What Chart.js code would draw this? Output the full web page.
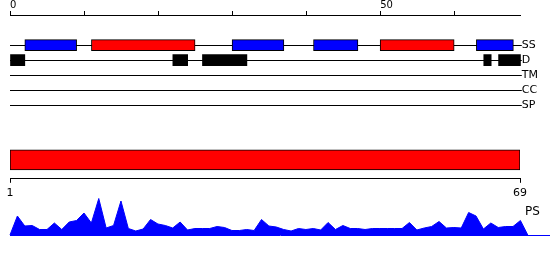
<!DOCTYPE html>
<html>
<head>
<meta charset="utf-8">
<script src="https://cdn.jsdelivr.net/npm/chart.js@4"></script>
<style>
  body { margin: 0; background: #fff; }
  #wrap { position: relative; width: 550px; height: 260px; }
  canvas { position: absolute; left: 0; }
  #psLabel { position: absolute; left: 525px; top: 204px; font: 12px "DejaVu Sans"; color: #000; }
</style>
</head>
<body>
<div id="wrap">
  <canvas id="tracks" width="550" height="112" style="top:0"></canvas>
  <canvas id="chain" width="550" height="63" style="top:141px"></canvas>
  <canvas id="ps" width="550" height="48" style="top:195px"></canvas>
  <div id="psLabel">PS</div>
</div>
<script>
// sequence and feature tracks
const seqLength = 69;
const trackNames = ['SS', 'D', 'TM', 'CC', 'SP'];
const topTickLabels = [0, 50];
const strandRanges = [[2, 9], [30, 37], [41, 47], [63, 68]];
const helixRanges = [[11, 25], [50, 60]];
const disorderRanges = [[0, 2], [22, 24], [26, 32], [64, 65], [66, 69]];
const chainRange = [1, 69];
// per-residue score, residues 1..69
const psScores = [19, 9, 9.5, 5.5, 5.5, 12, 5.5, 13, 14.5, 22, 12, 36.5, 7, 9.5, 34, 6.5, 4, 6, 15.5, 11,
  9.5, 7, 13, 5, 6.5, 6.5, 6.5, 8.5, 7.5, 4.5, 4.5, 5.5, 4.5, 15.5, 9, 8, 5.5, 4, 6.5, 5.5,
  6.5, 5, 12.5, 5.5, 9.5, 6.5, 6.5, 5.5, 6.5, 6.5, 6.5, 6.5, 6.5, 12.5, 5, 7, 8.5, 13.5, 7, 7.5,
  7, 22.5, 19, 6, 12, 7.5, 8.5, 8.5, 14.5];

const font = 'DejaVu Sans';
const noPlugins = { legend: { display: false }, tooltip: { enabled: false } };

function boxes(ranges, track) {
  return ranges.map(r => ({ x: r, y: track }));
}

new Chart(document.getElementById('tracks'), {
  type: 'bar',
  data: {
    datasets: [
      { data: boxes(strandRanges, 'SS'), backgroundColor: '#0000ff', borderColor: '#000', borderWidth: 1 },
      { data: boxes(helixRanges, 'SS'), backgroundColor: '#ff0000', borderColor: '#000', borderWidth: 1 },
      { data: boxes(disorderRanges, 'D'), backgroundColor: '#000', borderWidth: 0 }
    ]
  },
  options: {
    indexAxis: 'y',
    responsive: false,
    animation: false,
    grouped: false,
    barThickness: 11,
    borderSkipped: false,
    layout: { padding: { left: 10, right: 12, top: 0, bottom: 0 } },
    plugins: noPlugins,
    scales: {
      x: {
        type: 'linear',
        position: 'top',
        min: 0,
        max: seqLength,
        afterBuildTicks: s => { s.ticks = s.ticks.filter(t => t.value % 10 === 0); },
        ticks: {
          stepSize: 10,
          align: 'start',
          padding: 0,
          color: '#000',
          font: { family: font, size: 10, lineHeight: 1.1 },
          callback: v => topTickLabels.includes(v) ? String(v) : ''
        },
        grid: { drawOnChartArea: false, tickLength: 4, color: '#000' },
        border: { color: '#000' }
      },
      y: {
        type: 'category',
        labels: ['', ''].concat(trackNames),
        offset: false,
        position: 'right',
        grid: {
          offset: false,
          tickLength: 1,
          color: c => c.index >= 2 ? '#000' : 'rgba(0,0,0,0)'
        },
        border: { display: false },
        ticks: { autoSkip: false, padding: 0, color: '#000', font: { family: font, size: 11 } }
      }
    }
  }
});

new Chart(document.getElementById('chain'), {
  type: 'bar',
  data: {
    labels: ['chain'],
    datasets: [{
      data: [chainRange],
      backgroundColor: '#ff0000',
      borderColor: '#000',
      borderWidth: 1,
      borderSkipped: false,
      barThickness: 20
    }]
  },
  options: {
    indexAxis: 'y',
    responsive: false,
    animation: false,
    layout: { padding: { left: 10, right: 30, top: 0, bottom: 0 } },
    plugins: noPlugins,
    scales: {
      x: {
        type: 'linear',
        min: chainRange[0],
        max: chainRange[1],
        afterBuildTicks: s => { s.ticks = chainRange.map(v => ({ value: v })); },
        ticks: { padding: 4, color: '#000', font: { family: font, size: 11 } },
        grid: { drawOnChartArea: false, tickLength: 4, color: '#000' },
        border: { color: '#000' }
      },
      y: { display: false }
    }
  }
});

const psPoints = [{ x: 0, y: 0 }]
  .concat(psScores.map((v, i) => ({ x: i + 1, y: v })))
  .concat([{ x: seqLength + 1, y: 0 }]);

new Chart(document.getElementById('ps'), {
  type: 'line',
  data: {
    datasets: [{
      data: psPoints,
      fill: 'origin',
      backgroundColor: '#0000ff',
      borderColor: '#0000ff',
      borderWidth: 1,
      pointRadius: 0,
      tension: 0,
      clip: false
    }]
  },
  options: {
    responsive: false,
    animation: false,
    layout: { padding: { left: 10, right: 0, top: 0, bottom: 0 } },
    plugins: noPlugins,
    scales: {
      x: {
        type: 'linear',
        min: 0,
        max: 73,
        ticks: { display: false },
        grid: { display: false },
        border: { color: '#0000ff' }
      },
      y: { min: 0, max: 40, display: false }
    }
  }
});
</script>
</body>
</html>
